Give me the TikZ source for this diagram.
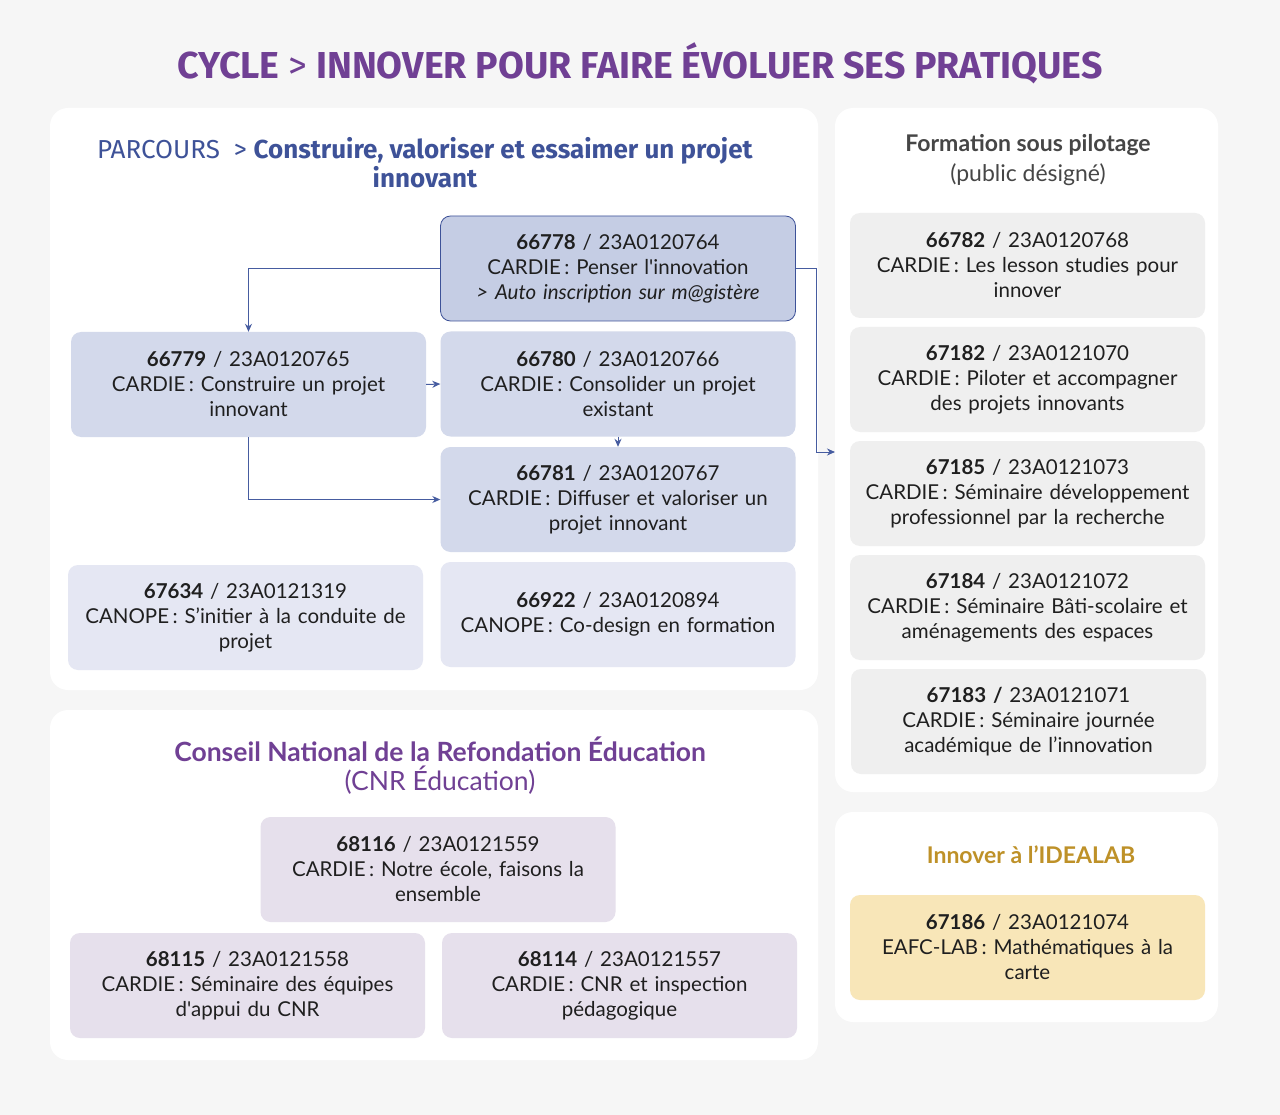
\documentclass[tikz,border=0pt]{standalone}
\usepackage{fontspec}
\setmainfont{Lato}
\newfontfamily\headfont{Fira Sans}
\usepackage{tikz}
\usetikzlibrary{arrows.meta}

\definecolor{bgcol}{RGB}{246,246,246}
\definecolor{violet}{RGB}{112,64,148}
\definecolor{bleu}{RGB}{62,82,152}
\definecolor{gristxt}{RGB}{70,70,70}
\definecolor{or}{RGB}{190,145,40}
\definecolor{bleufonce}{RGB}{197,205,228}
\definecolor{bleumoyen}{RGB}{211,217,235}
\definecolor{bleuclair}{RGB}{229,231,243}
\definecolor{grisbox}{RGB}{239,239,239}
\definecolor{lavande}{RGB}{230,224,236}
\definecolor{sable}{RGB}{248,230,184}
\definecolor{fleche}{RGB}{70,92,160}

\newcommand{\apos}{{\addfontfeatures{Ligatures=TeXOff}'}}

\begin{document}
\begin{tikzpicture}[x=1pt,y=-1pt,>={Stealth[length=8pt,width=7pt]},
  panel/.style={fill=white,rounded corners=18pt},
  course/.style={rounded corners=10pt,minimum width=355pt,minimum height=105pt,
    text width=345pt,align=center,inner sep=0pt,text=black!88,
    font=\fontsize{20.5}{25}\selectfont},
  link/.style={->,draw=fleche,line width=1pt}]
  \useasboundingbox[fill=bgcol] (0,0) rectangle (1280,1115);

  % panels
  \fill[panel] (50,108) rectangle (818,690);
  \fill[panel] (835,108) rectangle (1218,792);
  \fill[panel] (50,710) rectangle (818,1060);
  \fill[panel] (835,812) rectangle (1218,1022);

  \node[text=violet,font=\headfont\fontsize{37.5}{42}\selectfont\bfseries] (title) at (640,63)
    {CYCLE {\mdseries >} INNOVER POUR FAIRE ÉVOLUER SES PRATIQUES};

  % parcours
  \node[text=bleu,align=center,font=\headfont\fontsize{26}{29}\selectfont] (parcours) at (425,163)
    {PARCOURS \ > \textbf{Construire, valoriser et essaimer un projet}\\\textbf{innovant}};
  \node[course,fill=bleufonce,draw=bleu,line width=0.8pt] (penser) at (618,268.5)
    {\textbf{66778} / 23A0120764\\CARDIE\,: Penser l\apos innovation\\\textit{> Auto inscription sur m@gistère}};
  \node[course,fill=bleumoyen] (construire) at (248.5,384.5)
    {\textbf{66779} / 23A0120765\\CARDIE\,: Construire un projet\\innovant};
  \node[course,fill=bleumoyen] (consolider) at (618,384)
    {\textbf{66780} / 23A0120766\\CARDIE\,: Consolider un projet\\existant};
  \node[course,fill=bleumoyen] (diffuser) at (618,499.5)
    {\textbf{66781} / 23A0120767\\CARDIE\,: Diffuser et valoriser un\\projet innovant};
  \node[course,fill=bleuclair] (conduite) at (245.5,617.5)
    {\textbf{67634} / 23A0121319\\CANOPE\,: S’initier à la conduite de\\projet};
  \node[course,fill=bleuclair] (codesign) at (618,614.5)
    {\textbf{66922} / 23A0120894\\CANOPE\,: Co-design en formation};

  % formation sous pilotage
  \node[text=gristxt,align=center,font=\fontsize{23}{30}\selectfont] (pilotage) at (1028,160)
    {\textbf{Formation sous pilotage}\\(public désigné)};
  \node[course,fill=grisbox] (lesson) at (1027.5,265.5)
    {\textbf{66782} / 23A0120768\\CARDIE\,: Les lesson studies pour\\innover};
  \node[course,fill=grisbox] (piloter) at (1027.5,379.5)
    {\textbf{67182} / 23A0121070\\CARDIE\,: Piloter et accompagner\\des projets innovants};
  \node[course,fill=grisbox] (recherche) at (1027.5,493.5)
    {\textbf{67185} / 23A0121073\\CARDIE\,: Séminaire développement\\professionnel par la recherche};
  \node[course,fill=grisbox] (bati) at (1027.5,607.5)
    {\textbf{67184} / 23A0121072\\CARDIE\,: Séminaire Bâti-scolaire et\\aménagements des espaces};
  \node[course,fill=grisbox] (journee) at (1028.5,721.5)
    {\textbf{67183 /} 23A0121071\\CARDIE\,: Séminaire journée\\académique de l’innovation};

  % CNR
  \node[text=violet,align=center,font=\fontsize{26.5}{29}\selectfont] (cnr) at (440,766)
    {\textbf{Conseil National de la Refondation Éducation}\\(CNR Éducation)};
  \node[course,fill=lavande] (ecole) at (438,869.5)
    {\textbf{68116} / 23A0121559\\CARDIE\,: Notre école, faisons la\\ensemble};
  \node[course,fill=lavande] (appui) at (247.5,985.5)
    {\textbf{68115} / 23A0121558\\CARDIE\,: Séminaire des équipes\\d\apos appui du CNR};
  \node[course,fill=lavande] (inspection) at (619.5,985.5)
    {\textbf{68114} / 23A0121557\\CARDIE\,: CNR et inspection\\pédagogique};

  % idealab
  \node[text=or,font=\fontsize{23}{25}\selectfont\bfseries] (idealab) at (1031,855) {Innover à l’IDEALAB};
  \node[course,fill=sable] (maths) at (1027.5,947.5)
    {\textbf{67186} / 23A0121074\\EAFC-LAB\,: Mathématiques à la\\carte};

  % connectors
  \coordinate (entree) at (835,452);
  \draw[link] (penser.west) -| (construire.north);
  \draw[link] (construire.east) -- (consolider.west);
  \draw[link] (consolider.south) -- (diffuser.north);
  \draw[link] (construire.south) |- (diffuser.west);
  \draw[link] (penser.east) -- ++(21,0) |- (entree);
\end{tikzpicture}
\end{document}
